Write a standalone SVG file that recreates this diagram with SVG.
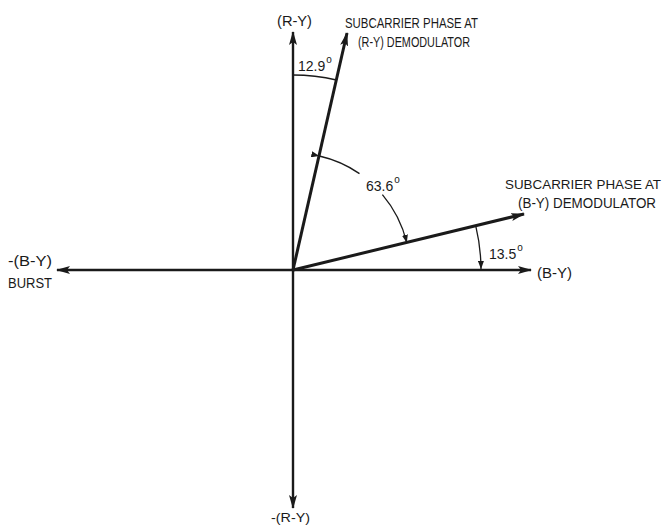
<svg xmlns="http://www.w3.org/2000/svg" width="667" height="526" viewBox="0 0 667 526">
<defs>
<marker id="ah" viewBox="0 0 14 8" refX="13" refY="4" markerWidth="14" markerHeight="8" markerUnits="userSpaceOnUse" orient="auto">
<path d="M0,0 L14,4 L0,8 L3,4 Z" fill="#1a1a1a"/>
</marker>
<marker id="sm" viewBox="0 0 8 6" refX="8" refY="3" markerWidth="8" markerHeight="6" markerUnits="userSpaceOnUse" orient="auto">
<path d="M0,0 L8,3 L0,6 Z" fill="#1a1a1a"/>
</marker>
</defs>
<style>
.ax{stroke:#1a1a1a;stroke-width:2.4;fill:none}
.vec{stroke:#1a1a1a;stroke-width:3;fill:none}
.arc{stroke:#1a1a1a;stroke-width:1.3;fill:none}
text{font-family:"Liberation Sans","DejaVu Sans",sans-serif;fill:#1a1a1a;font-size:15px}
.num{font-size:14px}
.sup{font-size:10px}
</style>
<rect width="667" height="526" fill="#fff"/>
<g id="connectors">
<line class="ax" x1="293" y1="270" x2="293" y2="32" marker-end="url(#ah)"/>
<line class="ax" x1="293" y1="270" x2="293" y2="508" marker-end="url(#ah)"/>
<line class="ax" x1="293" y1="270" x2="57" y2="270" marker-end="url(#ah)"/>
<line class="ax" x1="293" y1="270" x2="531" y2="270" marker-end="url(#ah)"/>
<line class="vec" x1="293" y1="270" x2="347" y2="33" marker-end="url(#ah)"/>
<line class="vec" x1="293" y1="270" x2="524" y2="214" marker-end="url(#ah)"/>
<path class="arc" d="M293,75 A195,195 0 0 1 336.5,80"/>
<path class="arc" d="M319.3,156 A117,117 0 0 1 359.5,173.6" marker-start="url(#sm)"/>
<path class="arc" d="M382.4,194.6 A117,117 0 0 1 406.8,242.7" marker-end="url(#sm)"/>
<path class="arc" d="M475.8,226.1 A188,188 0 0 1 481,269" marker-end="url(#sm)"/>
</g>
<g id="label-ry">
<text x="277" y="26" textLength="35" lengthAdjust="spacingAndGlyphs" style="font-size:14px">(R-Y)</text>
</g>
<g id="label-ry-demod">
<text x="345" y="28" textLength="133" lengthAdjust="spacingAndGlyphs">SUBCARRIER PHASE AT</text>
<text x="358" y="47" textLength="112" lengthAdjust="spacingAndGlyphs">(R-Y) DEMODULATOR</text>
</g>
<g id="label-129">
<text class="num" x="298" y="71">12.9<tspan class="sup" dx="1" dy="-8">o</tspan></text>
</g>
<g id="label-636">
<text class="num" x="366" y="191">63.6<tspan class="sup" dx="1" dy="-8">o</tspan></text>
</g>
<g id="label-by-demod">
<text x="505" y="189" textLength="156" lengthAdjust="spacingAndGlyphs" style="font-size:13px">SUBCARRIER PHASE AT</text>
<text x="518" y="208" textLength="138" lengthAdjust="spacingAndGlyphs" style="font-size:14px">(B-Y) DEMODULATOR</text>
</g>
<g id="label-135">
<text class="num" x="489" y="259">13.5<tspan class="sup" dx="1" dy="-8">o</tspan></text>
</g>
<g id="label-by">
<text x="537" y="278" textLength="35" lengthAdjust="spacingAndGlyphs" style="font-size:14px">(B-Y)</text>
</g>
<g id="label-burst">
<text x="8" y="266" textLength="44" lengthAdjust="spacingAndGlyphs" style="font-size:14px">-(B-Y)</text>
<text x="8" y="288" textLength="44" lengthAdjust="spacingAndGlyphs">BURST</text>
</g>
<g id="label-mry">
<text x="271" y="522" textLength="39" lengthAdjust="spacingAndGlyphs" style="font-size:13px">-(R-Y)</text>
</g>
</svg>
